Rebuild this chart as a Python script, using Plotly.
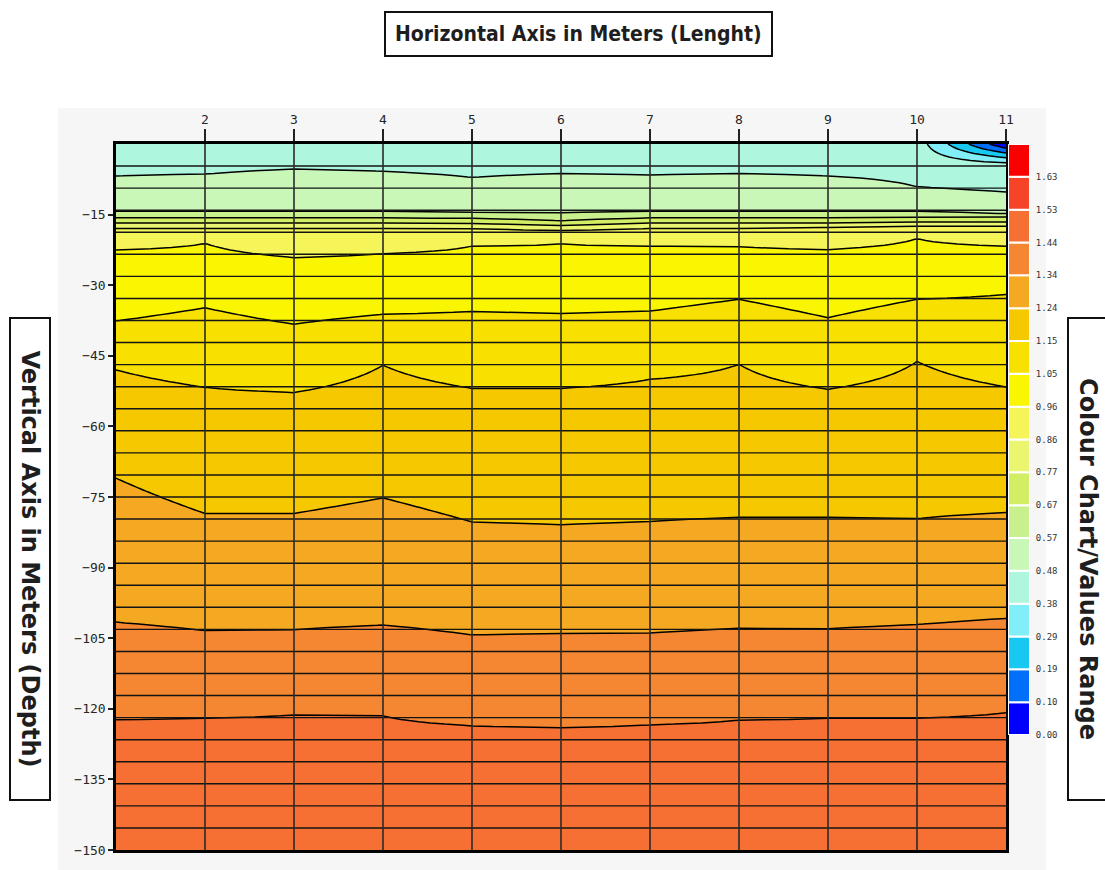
import numpy as np
import plotly.graph_objects as go

W, H = 1105, 870

# Stations along the profile (m) and section depth
stations = [1, 2, 3, 4, 5, 6, 7, 8, 9, 10, 11]
max_depth = -150.0
layer_count = 32

# Axis tick labels
x_ticks = [2, 3, 4, 5, 6, 7, 8, 9, 10, 11]
y_ticks = [-15, -30, -45, -60, -75, -90, -105, -120, -135, -150]

# Colour classes of the section (lower edges) and their labels
levels = [0.0, 0.0957, 0.1914, 0.2871, 0.3828, 0.4785, 0.5742, 0.6699, 0.7656,
          0.8613, 0.957, 1.0527, 1.1484, 1.2441, 1.3398, 1.4355, 1.5312, 1.6269, 1.7226]
level_labels = ["0.00", "0.10", "0.19", "0.29", "0.38", "0.48", "0.57", "0.67", "0.77",
                "0.86", "0.96", "1.05", "1.15", "1.24", "1.34", "1.44", "1.53", "1.63"]
band_colors = ["#0000ff", "#0070fa", "#18c8f0", "#82eef8", "#aef6de", "#c8f7b8",
               "#c8f08c", "#d2ee64", "#eaf570", "#f5f55a", "#faf500", "#f8e100",
               "#f5c800", "#f5a821", "#f58732", "#f57032", "#f54428", "#fa0000"]

# Values at the surface and at the base of the section, per station
surface_value = [0.43, 0.43, 0.43, 0.43, 0.43, 0.43, 0.43, 0.43, 0.43, 0.43, 0.02]
base_value = [1.50, 1.50, 1.50, 1.50, 1.50, 1.50, 1.50, 1.50, 1.50, 1.50, 1.50]

# Depth (m) where each contour level is crossed, per station (None: not reached)
depth_0096 = [None, None, None, None, None, None, None, None, None, None, -0.9]
depth_0191 = [None, None, None, None, None, None, None, None, None, None, -1.9]
depth_0287 = [None, None, None, None, None, None, None, None, None, None, -2.9]
depth_0383 = [None, None, None, None, None, None, None, None, None, None, -4.0]
depth_0479 = [-6.8, -6.4, -5.3, -5.8, -7.1, -6.3, -6.6, -6.3, -6.8, -9.1, -10.2]
depth_0574 = [-14.4, -14.4, -14.4, -14.4, -14.5, -14.7, -14.4, -14.4, -14.4, -14.4, -14.9]
depth_0670 = [-15.7, -15.7, -15.7, -15.7, -15.8, -16.3, -15.7, -15.7, -15.7, -15.6, -15.5]
depth_0766 = [-16.8, -16.8, -16.8, -16.8, -16.9, -17.3, -16.8, -16.8, -16.8, -16.6, -16.6]
depth_0861 = [-17.9, -17.9, -17.9, -17.9, -18.0, -18.3, -17.9, -17.9, -17.7, -17.5, -17.5]
depth_0957 = [-22.5, -21.1, -24.1, -23.3, -21.7, -21.2, -21.7, -21.8, -22.4, -20.1, -21.7]
depth_1053 = [-37.6, -34.8, -38.3, -36.2, -35.6, -36.0, -35.5, -33.0, -36.9, -33.0, -32.0]
depth_1148 = [-48.0, -51.7, -52.8, -47.0, -51.9, -51.9, -50.0, -46.8, -52.1, -46.2, -51.6]
depth_1244 = [-71.0, -78.5, -78.5, -75.2, -80.3, -80.9, -80.2, -79.3, -79.3, -79.6, -78.3]
depth_1340 = [-101.6, -103.4, -103.2, -102.2, -104.3, -104.0, -103.9, -102.9, -103.0, -102.1, -100.8]
depth_1436 = [-122.3, -122.0, -121.3, -121.5, -123.6, -124.0, -123.4, -122.4, -122.0, -122.0, -120.8]

crossings = [
    (levels[1], depth_0096), (levels[2], depth_0191), (levels[3], depth_0287),
    (levels[4], depth_0383), (levels[5], depth_0479), (levels[6], depth_0574),
    (levels[7], depth_0670), (levels[8], depth_0766), (levels[9], depth_0861),
    (levels[10], depth_0957), (levels[11], depth_1053), (levels[12], depth_1148),
    (levels[13], depth_1244), (levels[14], depth_1340), (levels[15], depth_1436),
]

# Build the value field: each station column follows its level crossings
depth_nodes = np.linspace(0.0, max_depth, 601)
z = np.zeros((len(depth_nodes), len(stations)))
for j in range(len(stations)):
    pts = [(0.0, surface_value[j]), (max_depth, base_value[j])]
    pts += [(d[j], lev) for lev, d in crossings if d[j] is not None]
    pts.sort(key=lambda p: -p[0])
    z[:, j] = np.interp(-depth_nodes, [-p[0] for p in pts], [p[1] for p in pts])

nc = len(levels) - 1
colorscale = [[0.0, band_colors[0]]] + [[(k + 1) / nc, band_colors[k]] for k in range(nc)]
step = levels[1] - levels[0]

fig = go.Figure()

fig.add_trace(go.Contour(
    x=stations, y=depth_nodes, z=z,
    contours=dict(start=levels[0], end=levels[-2], size=step, coloring="fill"),
    colorscale=colorscale, showscale=False,
    line=dict(color="#000000", width=1.5, smoothing=0),
    hoverinfo="skip",
))

# Model layer boundaries and station verticals over the section
layer_depths = [max_depth * k / layer_count for k in range(1, layer_count)]
hx, hy = [], []
for d in layer_depths:
    hx += [stations[0], stations[-1], None]
    hy += [d, d, None]
fig.add_trace(go.Scatter(x=hx, y=hy, mode="lines", line=dict(color="#141414", width=1.4),
                         hoverinfo="skip", showlegend=False))
vx, vy = [], []
for s in stations[1:-1]:
    vx += [s, s, None]
    vy += [max_depth, 0, None]
fig.add_trace(go.Scatter(x=vx, y=vy, mode="lines", line=dict(color="#2a2a2a", width=1.6),
                         hoverinfo="skip", showlegend=False))

# Colour chart
fig.add_trace(go.Bar(
    x=[0] * nc, y=[levels[k + 1] - levels[k] for k in range(nc)], base=levels[:-1],
    width=1, marker=dict(color=band_colors, line=dict(color="white", width=2)),
    xaxis="x2", yaxis="y2", hoverinfo="skip", showlegend=False,
))

def px(x):
    return x / W

def py(y):
    return 1 - y / H

tick_font = dict(family="DejaVu Sans Mono", size=13, color="#262626")

fig.update_layout(
    width=W, height=H,
    margin=dict(l=0, r=0, t=0, b=0),
    paper_bgcolor="white", plot_bgcolor="rgba(0,0,0,0)",
    showlegend=False,
    xaxis=dict(domain=[px(116), px(1006)], range=[1, 11], side="top",
               tickvals=x_ticks, ticks="outside", ticklen=12, tickwidth=1.5,
               tickcolor="#222", tickfont=tick_font, showgrid=False, zeroline=False,
               showline=True, linecolor="#000", linewidth=2.5, mirror=True,
               automargin=False, fixedrange=True),
    yaxis=dict(domain=[py(850), py(144)], range=[max_depth, 0], tickvals=y_ticks,
               ticks="outside", ticklen=5, tickwidth=1.5, tickcolor="#222",
               tickfont=tick_font, showgrid=False, zeroline=False,
               showline=True, linecolor="#000", linewidth=2.5, mirror=True,
               automargin=False, fixedrange=True),
    xaxis2=dict(domain=[px(1008), px(1030)], anchor="y2", range=[-0.5, 0.5],
                visible=False, fixedrange=True),
    yaxis2=dict(domain=[py(735), py(144)], anchor="x2", range=[levels[0], levels[-1]],
                side="right", tickvals=levels[:-1], ticktext=level_labels,
                ticks="outside", ticklen=3, tickwidth=2, tickcolor="white",
                tickfont=dict(family="DejaVu Sans Mono", size=9, color="#333"),
                showgrid=False, zeroline=False, showline=False,
                automargin=False, fixedrange=True),
    shapes=[dict(type="rect", xref="paper", yref="paper",
                 x0=px(58), x1=px(1046), y0=0, y1=py(108),
                 fillcolor="#f6f6f6", line=dict(width=0), layer="below")],
)

title_font = dict(family="DejaVu Sans Condensed, Liberation Sans, sans-serif",
                  size=21, color="#1e1e1e", weight="bold")
side_font = dict(family="DejaVu Sans, Liberation Sans, sans-serif", size=24,
                 color="#1e1e1e", weight="bold")

fig.add_annotation(x=px(578), y=py(34), xref="paper", yref="paper",
                   xanchor="center", yanchor="middle",
                   text="Horizontal Axis in Meters (Lenght)", showarrow=False,
                   font=title_font, borderpad=9,
                   bordercolor="#111", borderwidth=2, bgcolor="white")
fig.add_annotation(x=px(30), y=py(559), xref="paper", yref="paper",
                   xanchor="center", yanchor="middle",
                   text="Vertical Axis in Meters (Depth)", showarrow=False, textangle=90,
                   font=side_font, width=478, height=36, borderpad=1,
                   bordercolor="#111", borderwidth=2, bgcolor="white")
fig.add_annotation(x=px(1088), y=py(559), xref="paper", yref="paper",
                   xanchor="center", yanchor="middle",
                   text="Colour Chart/Values Range", showarrow=False, textangle=90,
                   font=side_font, width=478, height=36, borderpad=1,
                   bordercolor="#111", borderwidth=2, bgcolor="white")

fig.write_html("out.html")
